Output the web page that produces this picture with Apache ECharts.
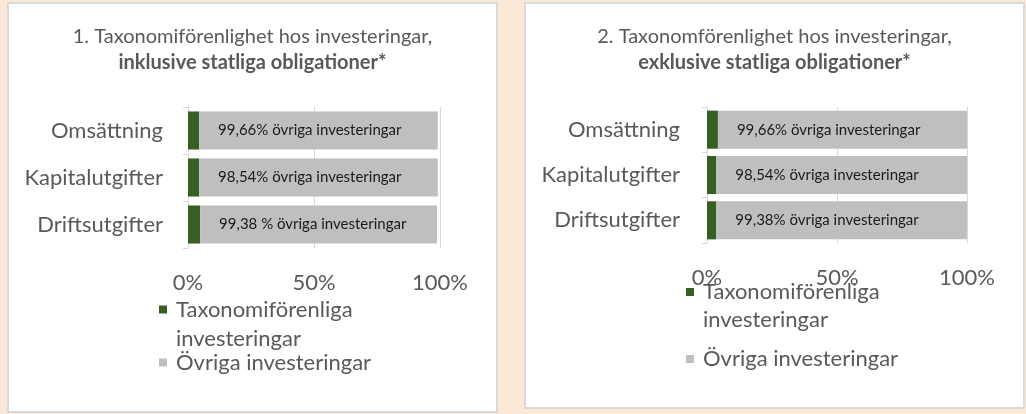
<!DOCTYPE html>
<html>
<head>
<meta charset="utf-8">
<script src="https://cdn.jsdelivr.net/npm/echarts@6/dist/echarts.min.js"></script>
<style>
  html, body { margin: 0; padding: 0; }
  body { width: 1026px; height: 414px; background: #FBE8D6; position: relative; overflow: hidden; }
  .panel { position: absolute; background: #fff; outline: 2px solid #D9D9D9; outline-offset: -2px; }
  #chart1 { left: 7px; top: 2px; width: 491px; height: 411px; }
  #chart2 { left: 524px; top: 2px; width: 501px; height: 407px; }
</style>
</head>
<body>
<div id="chart1" class="panel"></div>
<div id="chart2" class="panel"></div>
<script>
// kategorier och värden (andel i procent)
var categories = ['Omsättning', 'Kapitalutgifter', 'Driftsutgifter']
var seriesNames = ['Taxonomiförenliga investeringar', 'Övriga investeringar']
var xTicks = [0, 50, 100]

var aligned1 = [4.4, 4.4, 4.8]
var other1 = [94.7, 94.7, 94.0]
var labels1 = ['99,66% övriga investeringar', '98,54% övriga investeringar', '99,38 % övriga investeringar']

var aligned2 = [4.2, 3.6, 3.6]
var other2 = [95.8, 96.4, 96.4]
var labels2 = ['99,66% övriga investeringar', '98,54% övriga investeringar', '99,38% övriga investeringar']

var FONT = 'Lato, "Liberation Sans", sans-serif'
var TEXT = '#595959'

function buildOption (cfg) {
  return {
    animation: false,
    textStyle: { fontFamily: FONT },
    title: {
      left: 'center',
      top: cfg.titleTop,
      text: cfg.title1 + '\n{b|' + cfg.title2 + '}',
      textStyle: {
        fontFamily: FONT,
        fontSize: 20,
        fontWeight: 'normal',
        color: TEXT,
        lineHeight: 26,
        rich: {
          b: { fontFamily: FONT, fontSize: 20, fontWeight: 'bold', color: TEXT, lineHeight: 26 }
        }
      }
    },
    legend: {
      orient: 'vertical',
      left: cfg.legendLeft,
      top: cfg.legendTop,
      padding: 0,
      itemWidth: 8,
      itemHeight: 8,
      itemGap: cfg.legendGap,
      icon: 'rect',
      // tom rad överst så att ikonen hamnar vid första textraden
      formatter: function (name) {
        return name === seriesNames[0] ? '\u00a0\nTaxonomiförenliga\ninvesteringar' : name
      },
      textStyle: { fontFamily: FONT, fontSize: 22, color: TEXT, lineHeight: cfg.legendLine, padding: [0, 0, 0, 4] },
      data: seriesNames
    },
    grid: {
      left: cfg.grid[0],
      top: cfg.grid[1],
      width: cfg.grid[2],
      height: cfg.grid[3]
    },
    xAxis: {
      type: 'value',
      min: xTicks[0],
      max: xTicks[xTicks.length - 1],
      interval: xTicks[1] - xTicks[0],
      axisLine: { show: false },
      axisTick: { show: false },
      splitLine: { show: true, lineStyle: { color: '#D9D9D9', width: 1 } },
      axisLabel: {
        formatter: '{value}%',
        fontFamily: FONT,
        fontSize: 22,
        color: TEXT,
        margin: 24
      }
    },
    yAxis: {
      type: 'category',
      inverse: true,
      data: categories,
      axisLine: { show: true, lineStyle: { color: '#D9D9D9', width: 1 } },
      axisTick: { show: true, length: 5, lineStyle: { color: '#D9D9D9' } },
      axisLabel: {
        fontFamily: FONT,
        fontSize: 22,
        color: TEXT,
        margin: cfg.catMargin
      }
    },
    series: [
      {
        name: seriesNames[0],
        type: 'bar',
        stack: 'total',
        barCategoryGap: cfg.gap,
        itemStyle: { color: '#375F24' },
        data: cfg.aligned
      },
      {
        name: seriesNames[1],
        type: 'bar',
        stack: 'total',
        barCategoryGap: cfg.gap,
        itemStyle: { color: '#BFBFBF' },
        label: {
          show: true,
          position: 'insideLeft',
          distance: 19,
          fontFamily: FONT,
          fontSize: 15,
          color: '#1A1A1A',
          formatter: function (p) {
            return cfg.labels[p.dataIndex]
          }
        },
        data: cfg.other
      }
    ]
  }
}

var chart1 = echarts.init(document.getElementById('chart1'))
chart1.setOption(buildOption({
  title1: '1. Taxonomiförenlighet hos investeringar,',
  title2: 'inklusive statliga obligationer*',
  titleTop: 17,
  grid: [181, 105, 252, 141],
  gap: '19%',
  catMargin: 25,
  legendLeft: 152,
  legendTop: 264,
  legendGap: -5,
  legendLine: 29,
  aligned: aligned1,
  other: other1,
  labels: labels1
}))

var chart2 = echarts.init(document.getElementById('chart2'))
chart2.setOption(buildOption({
  title1: '2. Taxonomförenlighet hos investeringar,',
  title2: 'exklusive statliga obligationer*',
  titleTop: 17,
  grid: [183, 105, 260, 136],
  gap: '16%',
  catMargin: 27,
  legendLeft: 162,
  legendTop: 248,
  legendGap: 11,
  legendLine: 28,
  aligned: aligned2,
  other: other2,
  labels: labels2
}))
</script>
</body>
</html>
